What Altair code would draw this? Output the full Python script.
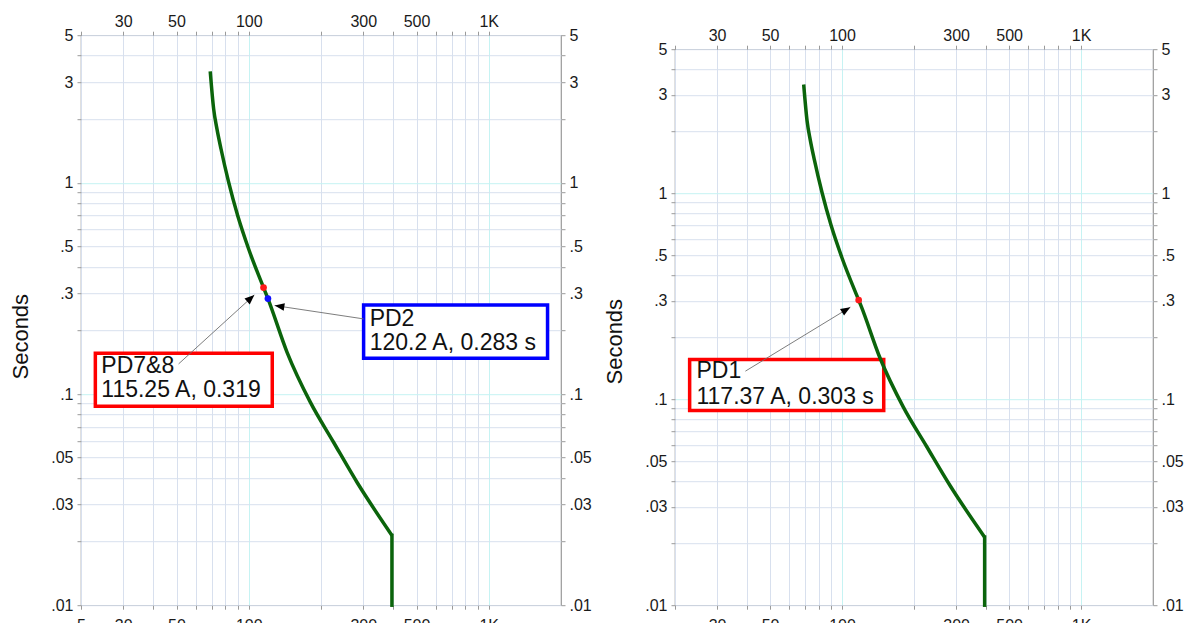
import altair as alt
import pandas as pd

# ---------------- data ----------------
# Time-current characteristic (current in A, time in s)
curve_current = [69.1, 71.4, 73.7, 76.6, 82.4, 89.9, 99.9, 115.25, 117.37, 120.2,
                 144.3, 180.5, 225.6, 282.5, 395.0]
curve_time = [3.37, 2.24, 1.80, 1.45, 1.01, 0.70, 0.486, 0.319, 0.303, 0.283,
              0.158, 0.0915, 0.0591, 0.0382, 0.0214]
# instantaneous (vertical) part of the characteristic
inst_current = [395.0, 395.0]
inst_time = [0.0214, 0.01]

# Axis ticks / grid and labels
x_grid = [20, 30, 40, 50, 60, 70, 80, 90, 100, 200, 300, 400, 500, 600, 700, 800, 900, 1000]
x_label_values = [30, 50, 100, 300, 500, 1000]
x_label_text = ["30", "50", "100", "300", "500", "1K"]
y_grid = [5, 4, 3, 2, 1, 0.9, 0.8, 0.7, 0.6, 0.5, 0.4, 0.3, 0.2, 0.1,
          0.09, 0.08, 0.07, 0.06, 0.05, 0.04, 0.03, 0.02, 0.01]
y_label_values = [5, 3, 1, 0.5, 0.3, 0.1, 0.05, 0.03, 0.01]
y_label_text = ["5", "3", "1", ".5", ".3", ".1", ".05", ".03", ".01"]

# Left panel annotations
L_dot_current = [115.25, 120.2]
L_dot_time = [0.319, 0.283]
L_dot_color = ["#ff1a1a", "#1010ff"]
L_box_x0 = [22.95, 301.0]
L_box_x1 = [125.3, 1758.0]
L_box_y0 = [0.156, 0.264]
L_box_y1 = [0.0876, 0.1477]
L_box_color = ["#ff0000", "#0000ff"]
L_text_x = [24.3, 24.3, 319.0, 319.0]
L_text_y = [0.1364, 0.1039, 0.2268, 0.1746]
L_text = ["PD7&8", "115.25 A, 0.319", "PD2", "120.2 A, 0.283 s"]
L_arrow_x0 = [51.0, 301.0]
L_arrow_y0 = [0.1388, 0.2268]
L_arrow_x1 = [105.5, 128.2]
L_arrow_y1 = [0.2945, 0.2624]
L_arrow_angle = [47.7, 278.6]

# Right panel annotations
R_dot_current = [117.37]
R_dot_time = [0.303]
R_dot_color = ["#ff1a1a"]
R_box_x0 = [23.03]
R_box_x1 = [149.4]
R_box_y0 = [0.1559]
R_box_y1 = [0.0881]
R_box_color = ["#ff0000"]
R_text_x = [24.6, 24.6]
R_text_y = [0.1363, 0.1022]
R_text = ["PD1", "117.37 A, 0.303 s"]
R_arrow_x0 = [39.4]
R_arrow_y0 = [0.1368]
R_arrow_x1 = [108.3]
R_arrow_y1 = [0.2797]
R_arrow_angle = [58.6]

# ---------------- style ----------------
FONT = "Liberation Sans"
BORDER = "#9a9a9a"
GRID = "#d8e0ee"
CYAN = "#c6f3f3"
GREEN = "#0b640b"
ARROW_PATH = "M0,0L-0.4,1L0.4,1Z"


def label_expr(values, texts):
    expr = "''"
    for v, t in reversed(list(zip(values, texts))):
        expr = f"datum.value == {v} ? '{t}' : ({expr})"
    return expr


def make_panel(width, height, title_y, extra_bottom, dots, boxes, texts, arrows, top_gap, bottom_gap):
    xs = alt.Scale(type="log", domain=[20, 2000], nice=False)
    ys = alt.Scale(type="log", domain=[0.01, 5], nice=False)

    bx_vals = x_label_values + ([20] if extra_bottom else [])
    bx_txt = x_label_text + (["5"] if extra_bottom else [])

    common = dict(domain=False, ticks=True, tickSize=4, tickColor=BORDER, tickWidth=1,
                  labelFont=FONT, labelFontSize=16, labelColor="#1a1a1a",
                  labelOverlap=False, labelFlush=False)

    bottom_kwargs = dict(orient="bottom", values=x_grid, labelExpr=label_expr(bx_vals, bx_txt),
                         grid=True, gridWidth=1,
                         gridColor={"condition": {"test": "datum.value == 100 || datum.value == 1000",
                                                  "value": CYAN}, "value": GRID},
                         labelPadding=8, **common)
    if bottom_gap:
        x_bottom = alt.Axis(title=" ", titleFontSize=10, titlePadding=bottom_gap, **bottom_kwargs)
    else:
        x_bottom = alt.Axis(title=None, **bottom_kwargs)
    top_kwargs = dict(orient="top", values=x_grid,
                      labelExpr=label_expr(x_label_values, x_label_text),
                      grid=False, labelPadding=2, **common)
    if top_gap:
        x_top = alt.Axis(title=" ", titleFontSize=10, titlePadding=top_gap, **top_kwargs)
    else:
        x_top = alt.Axis(title=None, **top_kwargs)
    y_left = alt.Axis(orient="left", values=y_grid,
                      labelExpr=label_expr(y_label_values, y_label_text),
                      grid=True, gridWidth=1,
                      gridColor={"condition": {"test": "datum.value == 1 || datum.value == 0.1",
                                               "value": CYAN}, "value": GRID},
                      labelPadding=4, title="Seconds", titleFont=FONT, titleFontSize=22,
                      titleFontWeight="normal", titleColor="#111111", titlePadding=18,
                      titleY=title_y, **common)
    y_right = alt.Axis(orient="right", values=y_grid,
                       labelExpr=label_expr(y_label_values, y_label_text),
                       grid=False, labelPadding=4, title=None, **common)

    curve_df = pd.DataFrame({"current": curve_current, "time": curve_time,
                             "idx": list(range(len(curve_current)))})
    inst_df = pd.DataFrame({"current": inst_current, "time": inst_time,
                            "idx": list(range(len(inst_current)))})
    base = alt.Chart(curve_df)

    axes_bl = base.mark_line(opacity=0).encode(
        x=alt.X("current:Q", scale=xs, axis=x_bottom),
        y=alt.Y("time:Q", scale=ys, axis=y_left),
        order="idx:Q",
    )
    axes_tr = base.mark_line(opacity=0).encode(
        x=alt.X("current:Q", scale=xs, axis=x_top),
        y=alt.Y("time:Q", scale=ys, axis=y_right),
        order="idx:Q",
    )

    bx0, bx1, by0, by1, bcol = boxes
    box_df = pd.DataFrame({"x0": bx0, "x1": bx1, "y0": by0, "y1": by1, "c": bcol})
    box_layer = alt.Chart(box_df).mark_rect(fill="white", strokeWidth=3.5).encode(
        x=alt.X("x0:Q", scale=xs, axis=None),
        x2="x1:Q",
        y=alt.Y("y0:Q", scale=ys, axis=None),
        y2="y1:Q",
        stroke=alt.Stroke("c:N", scale=None),
    )

    curve = base.mark_line(color=GREEN, strokeWidth=3.5, interpolate="monotone").encode(
        x=alt.X("current:Q", scale=xs, axis=None),
        y=alt.Y("time:Q", scale=ys, axis=None),
        order="idx:Q",
    )
    inst = alt.Chart(inst_df).mark_line(color=GREEN, strokeWidth=3.5, strokeCap="square").encode(
        x=alt.X("current:Q", scale=xs, axis=None),
        y=alt.Y("time:Q", scale=ys, axis=None),
        order="idx:Q",
    )

    ax0, ay0, ax1, ay1, aang = arrows
    arrow_df = pd.DataFrame({"x0": ax0, "y0": ay0, "x1": ax1, "y1": ay1, "ang": aang})
    arrow_line = alt.Chart(arrow_df).mark_rule(color="#6e6e6e", strokeWidth=0.9).encode(
        x=alt.X("x0:Q", scale=xs, axis=None),
        y=alt.Y("y0:Q", scale=ys, axis=None),
        x2="x1:Q",
        y2="y1:Q",
    )
    arrow_head = alt.Chart(arrow_df).mark_point(shape=ARROW_PATH, filled=True, size=380,
                                                color="#000000", opacity=1).encode(
        x=alt.X("x1:Q", scale=xs, axis=None),
        y=alt.Y("y1:Q", scale=ys, axis=None),
        angle=alt.Angle("ang:Q", scale=None),
    )

    dcur, dtime, dcol = dots
    dot_df = pd.DataFrame({"current": dcur, "time": dtime, "c": dcol})
    dot_layer = alt.Chart(dot_df).mark_point(filled=True, size=45, opacity=1).encode(
        x=alt.X("current:Q", scale=xs, axis=None),
        y=alt.Y("time:Q", scale=ys, axis=None),
        color=alt.Color("c:N", scale=None),
    )

    tx, ty, tt = texts
    text_df = pd.DataFrame({"x": tx, "y": ty, "t": tt})
    text_layer = alt.Chart(text_df).mark_text(align="left", baseline="middle", font=FONT,
                                              fontSize=23, color="#111111").encode(
        x=alt.X("x:Q", scale=xs, axis=None),
        y=alt.Y("y:Q", scale=ys, axis=None),
        text="t:N",
    )

    layered = alt.layer(axes_bl, axes_tr, box_layer, curve, inst, arrow_line, arrow_head,
                        dot_layer, text_layer).resolve_axis(x="independent", y="independent")
    return layered.properties(width=width, height=height)


left = make_panel(480, 570, 301, True,
                  (L_dot_current, L_dot_time, L_dot_color),
                  (L_box_x0, L_box_x1, L_box_y0, L_box_y1, L_box_color),
                  (L_text_x, L_text_y, L_text),
                  (L_arrow_x0, L_arrow_y0, L_arrow_x1, L_arrow_y1, L_arrow_angle),
                  0, 4)
right = make_panel(478, 556, 292, False,
                   (R_dot_current, R_dot_time, R_dot_color),
                   (R_box_x0, R_box_x1, R_box_y0, R_box_y1, R_box_color),
                   (R_text_x, R_text_y, R_text),
                   (R_arrow_x0, R_arrow_y0, R_arrow_x1, R_arrow_y1, R_arrow_angle),
                   4, 0)

chart = alt.hconcat(left, right, spacing=11, center=True).properties(
    padding={"left": 9, "top": 12, "right": 0, "bottom": 0},
    background="white",
).configure_view(stroke=BORDER, strokeWidth=1.2)

chart.save("out.html", embed_options={"renderer": "svg", "actions": False})
